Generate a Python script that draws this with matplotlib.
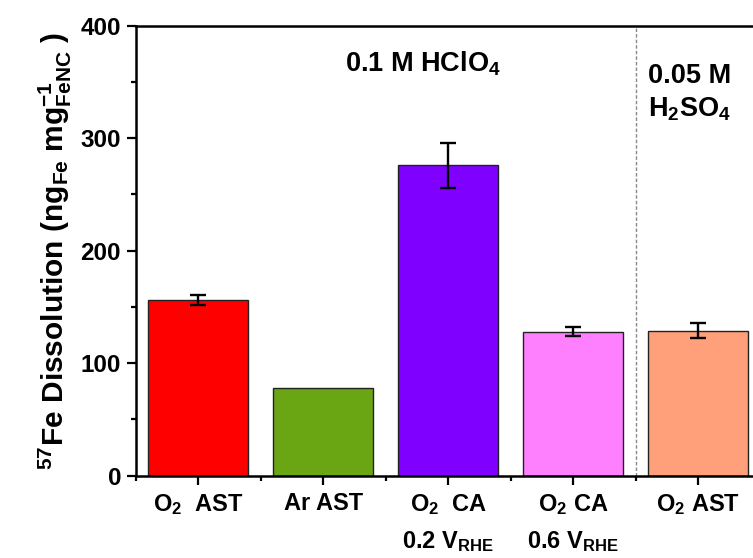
import numpy as np
import matplotlib.pyplot as plt
from matplotlib.ticker import MultipleLocator

plt.rcParams['font.family'] = 'Liberation Sans'
plt.rcParams['font.weight'] = 'bold'
plt.rcParams['axes.labelweight'] = 'bold'
plt.rcParams['mathtext.fontset'] = 'custom'
plt.rcParams['mathtext.rm'] = 'Liberation Sans:bold'
plt.rcParams['mathtext.it'] = 'Liberation Sans:bold'
plt.rcParams['mathtext.bf'] = 'Liberation Sans:bold'

# data
labels = ['O$_2$  AST', 'Ar AST', 'O$_2$  CA\n0.2 V$_{RHE}$',
          'O$_2$ CA\n0.6 V$_{RHE}$', 'O$_2$ AST']
values = [156, 78, 276, 128, 129]
errors = [4.7, 0, 20, 4, 6.4]
colors = ['#FF0000', '#6AA514', '#7F00FF', '#FF80FF', '#FFA07A']

fig = plt.figure(figsize=(7.53, 5.58), dpi=100)
ax = fig.add_axes([0.1802, 0.1475, 0.830, 0.8068])

x = np.arange(1, len(values) + 1)
ax.bar(x, values, width=0.8, color=colors, edgecolor='#222222', linewidth=1.0)

# only bars with a measured spread get an error bar
err = np.array(errors)
has_err = err > 0
ax.errorbar(x[has_err], np.array(values)[has_err], yerr=err[has_err],
            fmt='none', ecolor='black', elinewidth=1.7, capsize=5.5, capthick=1.7)

ax.axvline(4.5, color='#888888', linestyle=(0, (2.5, 1.5)), linewidth=1.0)

ax.set_xlim(0.5, 5.5)
ax.set_ylim(0, 400)
ax.set_xticks(x)
ax.set_xticklabels(labels, fontsize=17, linespacing=1.65)
ax.xaxis.set_minor_locator(MultipleLocator(1, offset=0.5))
ax.yaxis.set_major_locator(MultipleLocator(100))
ax.yaxis.set_minor_locator(MultipleLocator(50))
ax.tick_params(axis='y', labelsize=17.5, pad=4)
ax.tick_params(which='major', direction='out', length=6.5, width=1.6)
ax.tick_params(which='minor', direction='out', length=3.5, width=1.6)
ax.tick_params(axis='x', which='major', pad=5)
for s in ax.spines.values():
    s.set_linewidth(1.8)

ax.set_ylabel('$^{57}$Fe Dissolution (ng$_{Fe}$ mg$^{-1}_{FeNC}$ )',
              fontsize=21.5, labelpad=5)

ax.text(2.8, 366, '0.1 M HClO$_4$', fontsize=19.5, ha='center', va='center')
ax.text(4.6, 340, '0.05 M\nH$_2$SO$_4$', fontsize=19.5, ha='left', va='center',
        linespacing=1.3)

fig.savefig('out.png', dpi=100)
